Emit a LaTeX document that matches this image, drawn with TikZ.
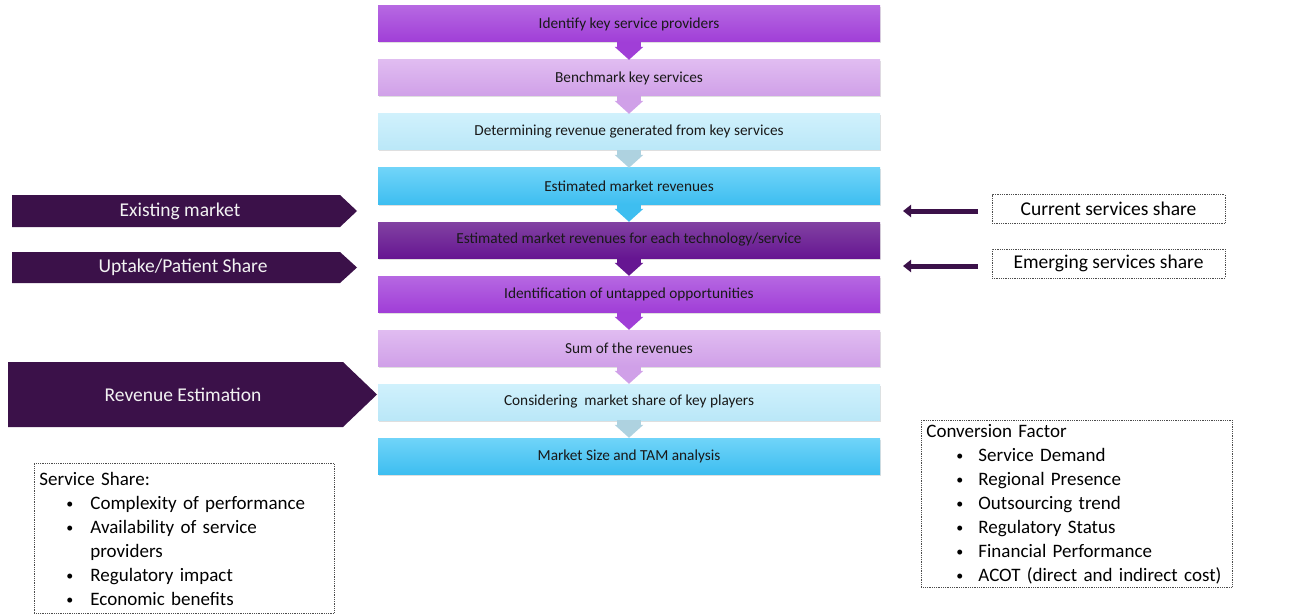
\documentclass[tikz,border=0pt]{standalone}
\usepackage{fontspec}
\setmainfont{Carlito}
\usetikzlibrary{arrows.meta,shadows}

\definecolor{darkplum}{RGB}{59,17,73}
\definecolor{violetT}{RGB}{182,104,226}
\definecolor{violetB}{RGB}{160,62,215}
\definecolor{lilacT}{RGB}{224,188,241}
\definecolor{lilacB}{RGB}{208,160,232}
\definecolor{iceT}{RGB}{208,241,252}
\definecolor{iceB}{RGB}{186,231,248}
\definecolor{skyT}{RGB}{112,212,249}
\definecolor{skyB}{RGB}{62,190,240}
\definecolor{grapeT}{RGB}{130,66,162}
\definecolor{grapeB}{RGB}{102,22,146}

\tikzset{
  stepbox/.style={minimum width=502pt, minimum height=36pt, inner sep=0pt,
    font=\fontsize{15.3}{17}\selectfont, text=black!90,
    drop shadow={opacity=0.25, shadow xshift=1pt, shadow yshift=-1.5pt}},
  violet/.style={stepbox, top color=violetT, bottom color=violetB},
  lilac/.style={stepbox, top color=lilacT, bottom color=lilacB},
  ice/.style={stepbox, top color=iceT, bottom color=iceB},
  sky/.style={stepbox, top color=skyT, bottom color=skyB},
  grape/.style={stepbox, top color=grapeT, bottom color=grapeB},
  flow/.style={line width=24pt, draw=#1, -{Triangle[width=28pt, length=13pt]}},
  tag/.style={text=white!95!black, font=\fontsize{19.5}{22}\selectfont},
  note/.style={draw=black!70, densely dotted, line width=0.8pt},
  pull/.style={darkplum, line width=5pt, -{Triangle[width=12pt, length=8pt]}}
}

\newcommand{\bul}[1]{\hspace*{#1}\makebox[0pt][l]{\raisebox{1pt}{\fontsize{14}{14}\selectfont\textbullet}}}

\begin{document}
\begin{tikzpicture}[x=1pt, y=-1pt]
    \useasboundingbox (0,0) rectangle (1296,615);

    % main flow
    \node[violet] (b1) at (629,24)  {Identify key service providers};
    \node[lilac]  (b2) at (629,78)  {Benchmark key services};
    \node[ice]    (b3) at (629,132) {Determining revenue generated from key services};
    \node[sky]    (b4) at (629,186) {Estimated market revenues};
    \node[grape]  (b5) at (629,240) {Estimated market revenues for each technology/service};
    \node[violet] (b6) at (629,294) {Identification of untapped opportunities};
    \node[lilac]  (b7) at (629,348) {Sum of the revenues};
    \node[ice]    (b8) at (629,402) {Considering~ market share of key players};
    \node[sky]    (b9) at (629,456) {Market Size and TAM analysis};

    \draw[flow=violetB] (b1.south) -- (b2.north);
    \draw[flow=lilacB]  (b2.south) -- (b3.north);
    \draw[flow=iceB!80!gray] (b3.south) -- (b4.north);
    \draw[flow=skyB]    (b4.south) -- (b5.north);
    \draw[flow=grapeB]  (b5.south) -- (b6.north);
    \draw[flow=violetB] (b6.south) -- (b7.north);
    \draw[flow=lilacB]  (b7.south) -- (b8.north);
    \draw[flow=iceB!80!gray] (b8.south) -- (b9.north);

    % left tags
    \fill[darkplum] (12,195) -- (340,195) -- (357,211) -- (340,227) -- (12,227) -- cycle;
    \node[tag] (exist) at (180,211) {Existing market};
    \fill[darkplum] (12,252) -- (340,252) -- (357,267.5) -- (340,283) -- (12,283) -- cycle;
    \node[tag] (uptake) at (183,267.5) {Uptake/Patient Share};
    \fill[darkplum] (8,362) -- (343,362) -- (377,394.5) -- (343,427) -- (8,427) -- cycle;
    \node[tag] (reven) at (183,394.5) {Revenue Estimation};

    % right inputs
    \node[note, minimum width=233pt, minimum height=29pt, font=\fontsize{19.5}{22}\selectfont] (cur) at (1108.5,209) {Current services share};
    \node[note, minimum width=233pt, minimum height=29pt, font=\fontsize{19.5}{22}\selectfont] (emerg) at (1108.5,263.5) {Emerging services share};
    \coordinate (curtail) at (978,211);
    \coordinate (curtip) at (903,211);
    \coordinate (emtail) at (978,266);
    \coordinate (emtip) at (903,266);
    \draw[pull] (curtail) -- (curtip);
    \draw[pull] (emtail) -- (emtip);

    % factor lists
    \node[note, anchor=north west, text width=290pt, inner xsep=5pt, inner ysep=3pt, align=left,
          font=\fontsize{19}{24}\selectfont] (share) at (34,463)
      {\rule{0pt}{19pt}Service Share:\\
       \bul{27pt}\hspace*{24pt}Complexity of performance\\
       \bul{27pt}\hspace*{24pt}Availability of service\\
       \hspace*{51pt}providers\\
       \bul{27pt}\hspace*{24pt}Regulatory impact\\
       \bul{27pt}\hspace*{24pt}Economic benefits\rule[-4.5pt]{0pt}{4.5pt}};
    \node[note, anchor=north west, text width=301pt, inner xsep=5pt, inner ysep=3pt, align=left,
          font=\fontsize{19}{24}\selectfont] (conv) at (921,420)
      {\rule{0pt}{14pt}Conversion Factor\\
       \bul{30pt}\hspace*{22pt}Service Demand\\
       \bul{30pt}\hspace*{22pt}Regional Presence\\
       \bul{30pt}\hspace*{22pt}Outsourcing trend\\
       \bul{30pt}\hspace*{22pt}Regulatory Status\\
       \bul{30pt}\hspace*{22pt}Financial Performance\\
       \bul{30pt}\hspace*{22pt}ACOT (direct and indirect cost)};
\end{tikzpicture}
\end{document}
